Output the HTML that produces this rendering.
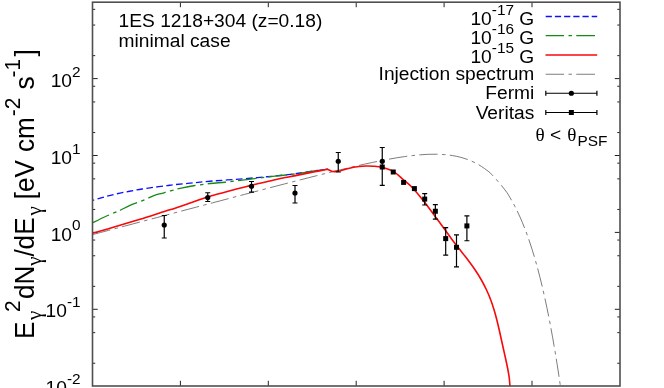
<!DOCTYPE html>
<html><head><meta charset="utf-8"><title>plot</title>
<style>html,body{margin:0;padding:0;background:#fff;overflow:hidden}svg{display:block;will-change:transform}text{font-family:"Liberation Sans",sans-serif;fill:#000}.sy{font-family:"Liberation Serif",serif}</style></head>
<body>
<svg width="664" height="388" viewBox="0 0 664 388">
<rect width="664" height="388" fill="#fff"/>
<path d="M92.50 363.25h2.7M620.00 363.25h-2.7M92.50 332.65h2.7M620.00 332.65h-2.7M92.50 316.95h2.7M620.00 316.95h-2.7M92.50 309.30h5.2M620.00 309.30h-5.2M92.50 286.35h2.7M620.00 286.35h-2.7M92.50 255.75h2.7M620.00 255.75h-2.7M92.50 240.05h2.7M620.00 240.05h-2.7M92.50 232.40h5.2M620.00 232.40h-5.2M92.50 209.45h2.7M620.00 209.45h-2.7M92.50 178.85h2.7M620.00 178.85h-2.7M92.50 163.15h2.7M620.00 163.15h-2.7M92.50 155.50h5.2M620.00 155.50h-5.2M92.50 132.55h2.7M620.00 132.55h-2.7M92.50 101.95h2.7M620.00 101.95h-2.7M92.50 86.25h2.7M620.00 86.25h-2.7M92.50 78.60h5.2M620.00 78.60h-5.2M92.50 55.65h2.7M620.00 55.65h-2.7M92.50 25.05h2.7M620.00 25.05h-2.7M92.50 9.35h2.7M620.00 9.35h-2.7M180.40 2.20v5M180.40 386.00v-5.2M268.30 2.20v5M268.30 386.00v-5.2M356.20 2.20v5M356.20 386.00v-5.2M444.10 2.20v5M444.10 386.00v-5.2M532.00 2.20v5M532.00 386.00v-5.2" stroke="#222" stroke-width="1" fill="none"/>
<path d="M92.50 234.62 C93.83 234.27 97.83 233.21 100.50 232.50 C103.17 231.79 105.83 231.09 108.50 230.38 C111.17 229.67 113.83 228.97 116.50 228.26 C119.17 227.55 121.83 226.85 124.50 226.14 C127.17 225.43 129.83 224.73 132.50 224.02 C135.17 223.31 137.83 222.61 140.50 221.90 C143.17 221.20 145.83 220.49 148.50 219.78 C151.17 219.08 153.83 218.37 156.50 217.66 C159.17 216.96 161.83 216.25 164.50 215.55 C167.17 214.84 169.83 214.13 172.50 213.43 C175.17 212.72 177.83 212.02 180.50 211.31 C183.17 210.61 185.83 209.90 188.50 209.19 C191.17 208.49 193.83 207.78 196.50 207.08 C199.17 206.37 201.83 205.67 204.50 204.96 C207.17 204.26 209.83 203.55 212.50 202.85 C215.17 202.14 217.83 201.44 220.50 200.74 C223.17 200.03 225.83 199.33 228.50 198.62 C231.17 197.92 233.83 197.22 236.50 196.51 C239.17 195.81 241.83 195.11 244.50 194.41 C247.17 193.71 249.83 193.01 252.50 192.30 C255.17 191.60 257.83 190.90 260.50 190.21 C263.17 189.51 265.83 188.81 268.50 188.11 C271.17 187.41 273.83 186.72 276.50 186.02 C279.17 185.33 281.83 184.63 284.50 183.94 C287.17 183.25 289.83 182.56 292.50 181.87 C295.17 181.18 297.83 180.49 300.50 179.80 C303.17 179.12 305.83 178.44 308.50 177.76 C311.17 177.08 313.83 176.40 316.50 175.72 C319.17 175.05 321.83 174.38 324.50 173.71 C327.17 173.05 329.83 172.38 332.50 171.73 C335.17 171.07 337.83 170.42 340.50 169.77 C343.17 169.13 345.83 168.49 348.50 167.85 C351.17 167.22 353.83 166.60 356.50 165.98 C359.17 165.37 361.83 164.77 364.50 164.17 C367.17 163.58 369.83 163.00 372.50 162.43 C375.17 161.87 377.83 161.32 380.50 160.78 C383.17 160.25 385.83 159.73 388.50 159.24 C391.17 158.75 393.83 158.28 396.50 157.84 C399.17 157.40 401.83 156.98 404.50 156.60 C407.17 156.22 409.83 155.87 412.50 155.56 C415.17 155.26 417.83 154.99 420.50 154.78 C423.17 154.57 425.83 154.40 428.50 154.31 C431.17 154.22 433.83 154.17 436.50 154.22 C439.17 154.27 441.83 154.38 444.50 154.61 C447.17 154.84 449.83 155.14 452.50 155.58 C455.17 156.02 457.83 156.56 460.50 157.27 C463.17 157.98 465.83 158.81 468.50 159.85 C471.17 160.89 473.83 162.07 476.50 163.52 C479.17 164.97 481.83 166.59 484.50 168.54 C487.17 170.49 489.08 171.65 492.50 175.22 C495.92 178.78 502.08 186.20 505.00 189.94 C507.92 193.67 508.33 194.86 510.00 197.64 C511.67 200.42 513.33 203.39 515.00 206.62 C516.67 209.85 518.33 213.28 520.00 217.03 C521.67 220.77 523.33 224.75 525.00 229.08 C526.67 233.41 528.33 238.00 530.00 243.00 C531.67 247.99 533.33 253.29 535.00 259.05 C536.67 264.80 538.33 270.91 540.00 277.53 C541.67 284.15 543.33 291.17 545.00 298.78 C546.67 306.38 548.33 314.45 550.00 323.18 C551.67 331.91 553.67 343.39 555.00 351.18 C556.33 358.97 557.12 364.22 558.00 369.91 C558.88 375.60 559.92 382.77 560.30 385.34" stroke="#505050" stroke-width="0.75" fill="none" stroke-dasharray="18.4 4.4 3.5 4.3"/>
<path d="M92.50 200.50 C94.50 199.90 100.42 198.03 104.50 196.90 C108.58 195.78 112.83 194.69 117.00 193.75 C121.17 192.81 125.33 192.04 129.50 191.25 C133.67 190.46 137.83 189.67 142.00 189.00 C146.17 188.33 150.33 187.82 154.50 187.25 C158.67 186.68 163.58 186.04 167.00 185.60 C170.42 185.16 170.67 185.05 175.00 184.60 C179.33 184.15 186.75 183.50 193.00 182.90 C199.25 182.30 205.50 181.58 212.50 181.00 C219.50 180.42 227.50 179.97 235.00 179.40 C242.50 178.83 250.83 178.17 257.50 177.60 C264.17 177.03 268.67 176.64 275.00 176.00 C281.33 175.36 288.96 174.62 295.50 173.75 C302.04 172.88 309.25 171.53 314.25 170.80 C319.25 170.08 323.21 169.67 325.50 169.40 C327.79 169.13 327.58 169.23 328.00 169.20" stroke="#1010ff" stroke-width="1.3" fill="none" stroke-dasharray="6.6 3.4" stroke-dashoffset="4.7"/>
<path d="M92.50 222.90 C94.50 221.92 100.42 218.88 104.50 217.00 C108.58 215.12 114.29 212.77 117.00 211.60 C119.71 210.43 118.67 211.00 120.75 210.00 C122.83 209.00 127.00 206.75 129.50 205.60 C132.00 204.45 133.67 203.90 135.75 203.10 C137.83 202.30 139.92 201.63 142.00 200.80 C144.08 199.97 146.17 199.02 148.25 198.10 C150.33 197.18 152.21 196.10 154.50 195.30 C156.79 194.50 159.92 193.88 162.00 193.30 C164.08 192.72 164.92 192.39 167.00 191.80 C169.08 191.21 172.75 190.23 174.50 189.75 C176.25 189.27 174.29 189.57 177.50 188.90 C180.71 188.23 188.33 186.65 193.75 185.75 C199.17 184.85 204.79 184.08 210.00 183.50 C215.21 182.92 220.42 182.71 225.00 182.25 C229.58 181.79 232.08 181.43 237.50 180.75 C242.92 180.07 251.25 178.96 257.50 178.20 C263.75 177.44 268.67 176.92 275.00 176.20 C281.33 175.48 288.96 174.78 295.50 173.90 C302.04 173.02 309.25 171.63 314.25 170.90 C319.25 170.17 323.21 169.77 325.50 169.50 C327.79 169.23 327.58 169.33 328.00 169.30" stroke="#168a16" stroke-width="1.3" fill="none" stroke-dasharray="18.4 4.4 3.5 4.3" stroke-dashoffset="0"/>
<path d="M92.50 233.25 C96.25 232.18 107.08 229.12 115.00 226.80 C122.92 224.48 131.67 221.90 140.00 219.30 C148.33 216.70 159.17 213.05 165.00 211.20 C170.83 209.35 170.83 209.55 175.00 208.20 C179.17 206.85 184.58 204.97 190.00 203.10 C195.42 201.23 200.83 199.07 207.50 197.00 C214.17 194.93 222.71 192.63 230.00 190.70 C237.29 188.77 246.67 186.55 251.25 185.40 C255.83 184.25 253.54 184.75 257.50 183.80 C261.46 182.85 268.67 181.07 275.00 179.70 C281.33 178.33 289.67 176.78 295.50 175.60 C301.33 174.42 305.83 173.43 310.00 172.60 C314.17 171.77 317.60 171.15 320.50 170.60 C323.40 170.05 326.25 169.52 327.40 169.30 L331.75 171.30 L334.25 171.60 L340.50 170.70 L340.50 170.70 C342.67 170.13 349.25 168.08 353.50 167.30 C357.75 166.52 362.67 166.18 366.00 166.00 C369.33 165.82 370.79 165.95 373.50 166.20 C376.21 166.45 378.92 166.60 382.25 167.50 C385.58 168.40 389.96 169.56 393.50 171.60 C397.04 173.64 400.58 177.32 403.50 179.75 C406.42 182.18 408.63 183.88 411.00 186.20 C413.37 188.52 415.37 190.94 417.70 193.70 C420.03 196.46 422.12 198.99 425.00 202.75 C427.88 206.51 431.46 211.46 435.00 216.25 C438.54 221.04 443.36 227.54 446.25 231.50 C449.14 235.46 450.00 236.92 452.32 240.00 C454.64 243.08 457.58 246.67 460.19 250.00 C462.80 253.33 465.50 256.67 467.99 260.00 C470.49 263.33 472.93 266.67 475.16 270.00 C477.39 273.33 479.49 276.67 481.39 280.00 C483.29 283.33 485.01 286.67 486.57 290.00 C488.13 293.33 489.50 296.67 490.76 300.00 C492.02 303.33 493.09 306.67 494.11 310.00 C495.13 313.33 496.01 316.67 496.86 320.00 C497.71 323.33 498.46 326.67 499.23 330.00 C500.00 333.33 500.72 336.67 501.46 340.00 C502.20 343.33 502.93 346.67 503.67 350.00 C504.41 353.33 505.18 356.67 505.89 360.00 C506.60 363.33 507.40 367.00 507.96 370.00 C508.52 373.00 508.94 375.33 509.27 378.00 C509.60 380.67 509.83 384.67 509.94 386.00" stroke="#f80808" stroke-width="1.6" fill="none" stroke-linejoin="round"/>
<path d="M164.25 215.50V238.00M161.75 215.50h5M161.75 238.00h5M207.75 192.75V201.50M205.25 192.75h5M205.25 201.50h5M251.50 181.50V192.20M249.00 181.50h5M249.00 192.20h5M295.00 185.50V203.00M292.50 185.50h5M292.50 203.00h5M338.25 152.50V172.00M335.75 152.50h5M335.75 172.00h5M382.25 147.50V185.40M379.75 147.50h5M379.75 185.40h5M424.70 193.70V205.00M422.20 193.70h5M422.20 205.00h5M435.35 204.60V219.20M432.85 204.60h5M432.85 219.20h5M445.70 227.70V255.20M443.20 227.70h5M443.20 255.20h5M456.50 234.90V266.90M454.00 234.90h5M454.00 266.90h5M466.90 215.80V240.75M464.40 215.80h5M464.40 240.75h5" stroke="#000" stroke-width="1.2" fill="none"/>
<circle cx="164.25" cy="225.00" r="2.6" fill="#000"/>
<circle cx="207.75" cy="197.50" r="2.6" fill="#000"/>
<circle cx="251.50" cy="186.25" r="2.6" fill="#000"/>
<circle cx="295.00" cy="193.00" r="2.6" fill="#000"/>
<circle cx="338.25" cy="161.25" r="2.6" fill="#000"/>
<circle cx="382.25" cy="161.25" r="2.6" fill="#000"/>
<rect x="379.75" y="164.50" width="5" height="5" fill="#000"/>
<rect x="390.75" y="169.50" width="5" height="5" fill="#000"/>
<rect x="401.10" y="179.90" width="5" height="5" fill="#000"/>
<rect x="411.90" y="186.10" width="5" height="5" fill="#000"/>
<rect x="422.20" y="196.60" width="5" height="5" fill="#000"/>
<rect x="432.85" y="208.75" width="5" height="5" fill="#000"/>
<rect x="443.20" y="236.10" width="5" height="5" fill="#000"/>
<rect x="454.00" y="244.80" width="5" height="5" fill="#000"/>
<rect x="464.40" y="223.40" width="5" height="5" fill="#000"/>
<rect x="92.50" y="2.20" width="527.50" height="383.80" fill="none" stroke="#4f4f4f" stroke-width="1.6"/>
<path d="M545.70 16.50H597.20" stroke="#1010ff" stroke-width="1.3" stroke-dasharray="6.2 3"/>
<path d="M545.70 35.60H597.20" stroke="#168a16" stroke-width="1.3" stroke-dasharray="18.4 4.4 3.5 4.3 18.7 99"/>
<path d="M545.50 55.00H597.20" stroke="#f80808" stroke-width="1.5"/>
<path d="M545.70 74.25H597.20" stroke="#505050" stroke-width="0.75" stroke-dasharray="18.4 4.4 3.5 4.3 18.7 99"/>
<path d="M545.50 93.25H597.20M545.80 90.65v5.2M596.90 90.65v5.2" stroke="#000" stroke-width="1.2" fill="none"/>
<path d="M545.50 112.50H597.20M545.80 109.90v5.2M596.90 109.90v5.2" stroke="#000" stroke-width="1.2" fill="none"/>
<circle cx="571.35" cy="93.25" r="2.6" fill="#000"/>
<rect x="568.85" y="110.00" width="5" height="5" fill="#000"/>
<text x="534.30" y="24.65" font-size="19.2" text-anchor="end">10<tspan font-size="15.4" dy="-10.1">-17</tspan><tspan dy="10.1"> G</tspan></text>
<text x="534.30" y="43.90" font-size="19.2" text-anchor="end">10<tspan font-size="15.4" dy="-10.1">-16</tspan><tspan dy="10.1"> G</tspan></text>
<text x="534.30" y="63.15" font-size="19.2" text-anchor="end">10<tspan font-size="15.4" dy="-10.1">-15</tspan><tspan dy="10.1"> G</tspan></text>
<text x="534.30" y="80.20" font-size="19.2" text-anchor="end">Injection spectrum</text>
<text x="534.30" y="99.45" font-size="19.2" text-anchor="end">Fermi</text>
<text x="534.30" y="118.70" font-size="19.2" text-anchor="end">Veritas</text>
<text x="535.5" y="140.6" font-size="19.2"><tspan class="sy">θ</tspan> &lt; <tspan class="sy" dx="0.6">θ</tspan><tspan font-size="15.4" dx="1" dy="5.8">PSF</tspan></text>
<text x="118.6" y="27.4" font-size="19.2">1ES 1218+304 (z=0.18)</text>
<text x="118.6" y="46.6" font-size="19.2">minimal case</text>
<text x="80.60" y="87.10" font-size="19.2" text-anchor="end">10<tspan font-size="15.4" dy="-10.2">2</tspan></text>
<text x="80.60" y="163.85" font-size="19.2" text-anchor="end">10<tspan font-size="15.4" dy="-10.2">1</tspan></text>
<text x="80.60" y="240.60" font-size="19.2" text-anchor="end">10<tspan font-size="15.4" dy="-10.2">0</tspan></text>
<text x="80.60" y="317.35" font-size="19.2" text-anchor="end">10<tspan font-size="15.4" dy="-10.2">-1</tspan></text>
<text x="80.60" y="394.10" font-size="19.2" text-anchor="end">10<tspan font-size="15.4" dy="-10.2">-2</tspan></text>
<text transform="translate(34.00 339.00) rotate(-90) scale(1 1.045)" font-size="26.20">E</text>
<text transform="translate(41.10 319.88) rotate(-90)" font-size="20.96" class="sy">γ</text>
<text transform="translate(20.40 312.07) rotate(-90) scale(1 1.045)" font-size="20.96">2</text>
<text transform="translate(34.00 299.07) rotate(-90) scale(1 1.045)" font-size="26.20">dN</text>
<text transform="translate(41.10 265.65) rotate(-90)" font-size="20.96" class="sy">γ</text>
<text transform="translate(34.00 256.62) rotate(-90) scale(1 1.045)" font-size="26.20">/</text>
<text transform="translate(34.00 249.40) rotate(-90) scale(1 1.045)" font-size="26.20">dE</text>
<text transform="translate(41.10 215.57) rotate(-90)" font-size="20.96" class="sy">γ</text>
<text transform="translate(34.00 199.35) rotate(-90) scale(1 1.045)" font-size="26.20">[eV</text>
<text transform="translate(34.00 152.05) rotate(-90) scale(1 1.045)" font-size="26.20">cm</text>
<text transform="translate(20.40 116.17) rotate(-90) scale(1 1.045)" font-size="20.96">-2</text>
<text transform="translate(34.00 89.38) rotate(-90) scale(1 1.045)" font-size="26.20">s</text>
<text transform="translate(20.40 77.38) rotate(-90) scale(1 1.045)" font-size="20.96">-1</text>
<text transform="translate(34.00 56.38) rotate(-90) scale(1 1.045)" font-size="26.20">]</text>
</svg>
</body></html>
